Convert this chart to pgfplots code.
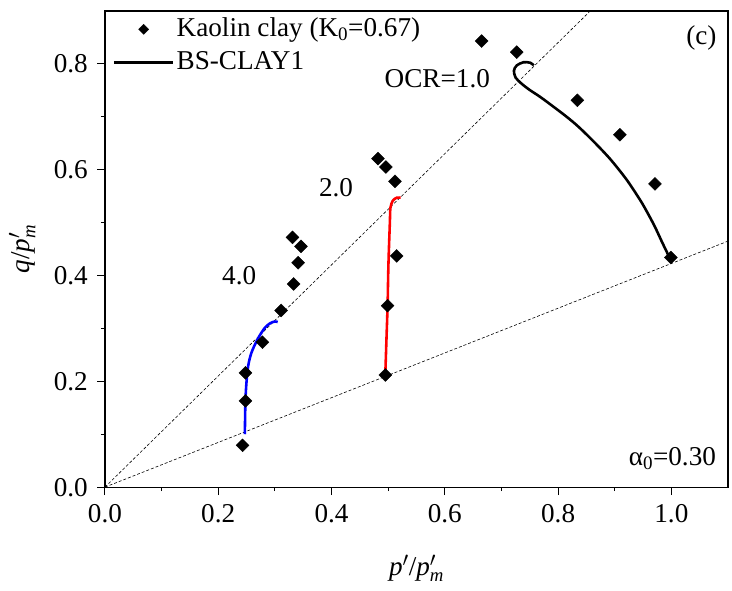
\documentclass[border=0pt]{standalone}
\usepackage{pgfplots}
\pgfplotsset{compat=1.18}
\usepackage{fontspec}
\setmainfont{Liberation Serif}
\newcommand{\bigfont}{\fontsize{27.5}{32}\selectfont}
\pgfplotsset{
  marklegend/.style={legend image code/.code={\draw[mark repeat=2, mark phase=2, ##1] plot coordinates {(0bp,0bp)(30bp,0bp)(60bp,0bp)};}},
  linelegend/.style={legend image code/.code={\draw[##1] (0bp,0bp) -- (60bp,0bp);}},
}
\begin{document}
\bigfont
\begin{tikzpicture}
\begin{axis}[
  name=ax,
  scale only axis, width=628bp, height=480bp,
  xmin=0, xmax=1.1, ymin=0, ymax=0.9,
  xtick={0,0.2,0.4,0.6,0.8,1.0}, ytick={0,0.2,0.4,0.6,0.8},
  minor tick num=1,
  tick align=outside, tick pos=left,
  major tick length=8bp, minor tick length=4bp,
  axis line style={line width=1.2bp},
  every tick/.style={black, line width=1bp},
  /pgf/number format/assume math mode=true,
  xticklabel style={/pgf/number format/.cd, fixed, fixed zerofill, precision=1},
  yticklabel style={/pgf/number format/.cd, fixed, fixed zerofill, precision=1},
  tick label style={font=\bigfont},
  label style={font=\bigfont},
  xlabel style={yshift=-14bp},
  xlabel={\textit{p}$'$/\textit{p}$'_{\mbox{\fontsize{19}{19}\selectfont\textit{m}}}$},
  ylabel={\textit{q}/\textit{p}$'_{\mbox{\fontsize{19}{19}\selectfont\textit{m}}}$},
  legend style={draw=none, fill=none, at={(0.012,0.99)}, anchor=north west,
    font=\bigfont, row sep=7bp, inner sep=0pt},
  legend cell align=left,
]
% reference lines
\addplot[black, densely dashed, line width=0.6bp, forget plot] coordinates {(0,0) (0.855,0.898)};
\addplot[black, densely dashed, line width=0.6bp, forget plot] coordinates {(0,0) (1.1,0.465)};

\addlegendimage{only marks, mark=square*, mark size=3.6bp, every mark/.append style={rotate=45, fill=black}, black, marklegend}
\addlegendentry{Kaolin clay (K\textsubscript{0}=0.67)}
\addlegendimage{black, line width=2.6bp, linelegend}
\addlegendentry{BS-CLAY1}

% BS-CLAY1 simulations
\addplot[black, line width=2.6bp, smooth, forget plot] coordinates {
(1.0,0.425) (0.993,0.442) (0.984,0.462) (0.97,0.494) (0.955,0.524) (0.944,0.544)
(0.921,0.581) (0.892,0.62) (0.862,0.654) (0.835,0.682) (0.815,0.70) (0.793,0.718)
(0.769,0.737) (0.748,0.752) (0.735,0.763) (0.725,0.774) (0.722,0.787) (0.727,0.797)
(0.739,0.803) (0.751,0.802) (0.757,0.797)};
\addplot[red, line width=2.6bp, smooth, forget plot] coordinates {
(0.495,0.215) (0.497,0.28) (0.499,0.344) (0.500,0.40) (0.501,0.44) (0.503,0.50)
(0.504,0.528) (0.508,0.541) (0.515,0.547) (0.522,0.547)};
\addplot[blue, line width=2.6bp, smooth, forget plot] coordinates {
(0.247,0.10) (0.248,0.163) (0.250,0.20) (0.253,0.23) (0.258,0.252) (0.265,0.27)
(0.274,0.288) (0.283,0.302) (0.292,0.31) (0.300,0.313) (0.305,0.312)};

% Kaolin clay data
\addplot[only marks, mark=square*, mark size=4.6bp, every mark/.append style={rotate=45, fill=black}, black, forget plot] coordinates {
(0.665,0.843) (0.727,0.822) (0.834,0.731) (0.909,0.666) (0.971,0.573) (0.999,0.434)
(0.482,0.621) (0.496,0.605) (0.512,0.578) (0.515,0.437) (0.499,0.343) (0.495,0.212)
(0.331,0.472) (0.346,0.455) (0.341,0.424) (0.333,0.384) (0.311,0.334) (0.278,0.274)
(0.248,0.216) (0.248,0.163) (0.243,0.079)};

\node[font=\bigfont] at (axis cs:0.237,0.40) {4.0};
\node[font=\bigfont] at (axis cs:0.408,0.566) {2.0};
\node[font=\bigfont, anchor=east, inner sep=0pt] at (axis cs:0.68,0.772) {OCR=1.0};
\node[font=\bigfont] at (axis cs:1.053,0.848) {(c)};
\node[font=\bigfont, anchor=east, inner sep=0pt] at (axis cs:1.079,0.054) {α\textsubscript{0}=0.30};
\end{axis}
\path ([xshift=4bp,yshift=11bp]ax.north east);
\end{tikzpicture}
\end{document}
